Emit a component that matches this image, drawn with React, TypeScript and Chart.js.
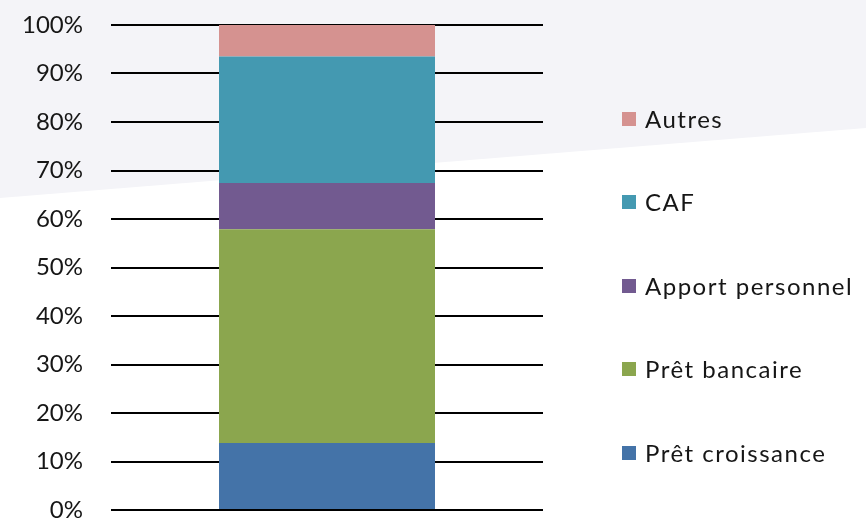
import React, { useEffect, useRef } from "react";
import { Chart, registerables } from "chart.js";

Chart.register(...registerables);

const categories = ["Financement"];
const seriesNames = ["Prêt croissance", "Prêt bancaire", "Apport personnel", "CAF", "Autres"];
const seriesValues = [13.8, 44.1, 9.5, 26.1, 6.5];
const seriesColors = ["#4473a8", "#8ba64e", "#725a90", "#4499b1", "#d59290"];
const yTicks = [0, 10, 20, 30, 40, 50, 60, 70, 80, 90, 100];

const FONT = "Lato, 'Open Sans', sans-serif";
const TEXT_COLOR = "#161616";

const backgroundPlugin = {
  id: "slideBackground",
  beforeDraw(chart: any) {
    const { ctx, width, height } = chart;
    ctx.save();
    ctx.fillStyle = "#ffffff";
    ctx.fillRect(0, 0, width, height);
    ctx.fillStyle = "#f4f4f8";
    ctx.beginPath();
    ctx.moveTo(0, 0);
    ctx.lineTo(width, 0);
    ctx.lineTo(width, 128);
    ctx.lineTo(0, 198);
    ctx.closePath();
    ctx.fill();
    ctx.restore();
  },
};

export default function App() {
  const canvasRef = useRef<HTMLCanvasElement | null>(null);

  useEffect(() => {
    if (!canvasRef.current) return;
    const chart = new Chart(canvasRef.current, {
      type: "bar",
      data: {
        labels: categories,
        datasets: seriesNames.map((name, i) => ({
          label: name,
          data: [seriesValues[i]],
          backgroundColor: seriesColors[i],
          borderWidth: 0,
          categoryPercentage: 0.5,
          barPercentage: 1.0,
        })),
      },
      options: {
        animation: false,
        responsive: false,
        devicePixelRatio: 1,
        layout: { padding: { top: 25, right: 323, bottom: 10, left: 0 } },
        plugins: {
          legend: { display: false },
          tooltip: { enabled: false },
        },
        scales: {
          x: {
            stacked: true,
            display: false,
          },
          y: {
            stacked: true,
            min: 0,
            max: 100,
            afterBuildTicks: (scale: any) => {
              scale.ticks = yTicks.map((v) => ({ value: v }));
            },
            afterFit: (scale: any) => {
              scale.width = 111;
            },
            ticks: {
              padding: 0,
              color: TEXT_COLOR,
              font: { family: FONT, size: 24, lineHeight: 0.8 },
              callback: (v: any) => `${v}%`,
            },
            grid: {
              color: "#000000",
              lineWidth: 2,
              drawTicks: true,
              tickLength: 28,
              tickColor: "rgba(0,0,0,0)",
            },
            border: { display: false },
          },
        },
      },
      plugins: [backgroundPlugin],
    });
    return () => chart.destroy();
  }, []);

  const legendItems = seriesNames.map((name, i) => ({ name, color: seriesColors[i] })).reverse();

  return (
    <div style={{ position: "absolute", left: 0, top: 0, width: 866, height: 520, overflow: "hidden" }}>
      <canvas ref={canvasRef} width={866} height={520} style={{ width: 866, height: 520, display: "block" }} />
      <div style={{ position: "absolute", left: 622, top: 77, display: "flex", flexDirection: "column" }}>
        {legendItems.map((it) => (
          <div key={it.name} style={{ height: 83.5, display: "flex", alignItems: "center" }}>
            <span style={{ width: 14, height: 14, background: it.color, display: "inline-block", flex: "none" }} />
            <span
              style={{
                marginLeft: 9,
                fontFamily: FONT,
                fontSize: 24,
                letterSpacing: "1.5px",
                color: TEXT_COLOR,
                lineHeight: "28px",
                whiteSpace: "nowrap",
              }}
            >
              {it.name}
            </span>
          </div>
        ))}
      </div>
    </div>
  );
}
